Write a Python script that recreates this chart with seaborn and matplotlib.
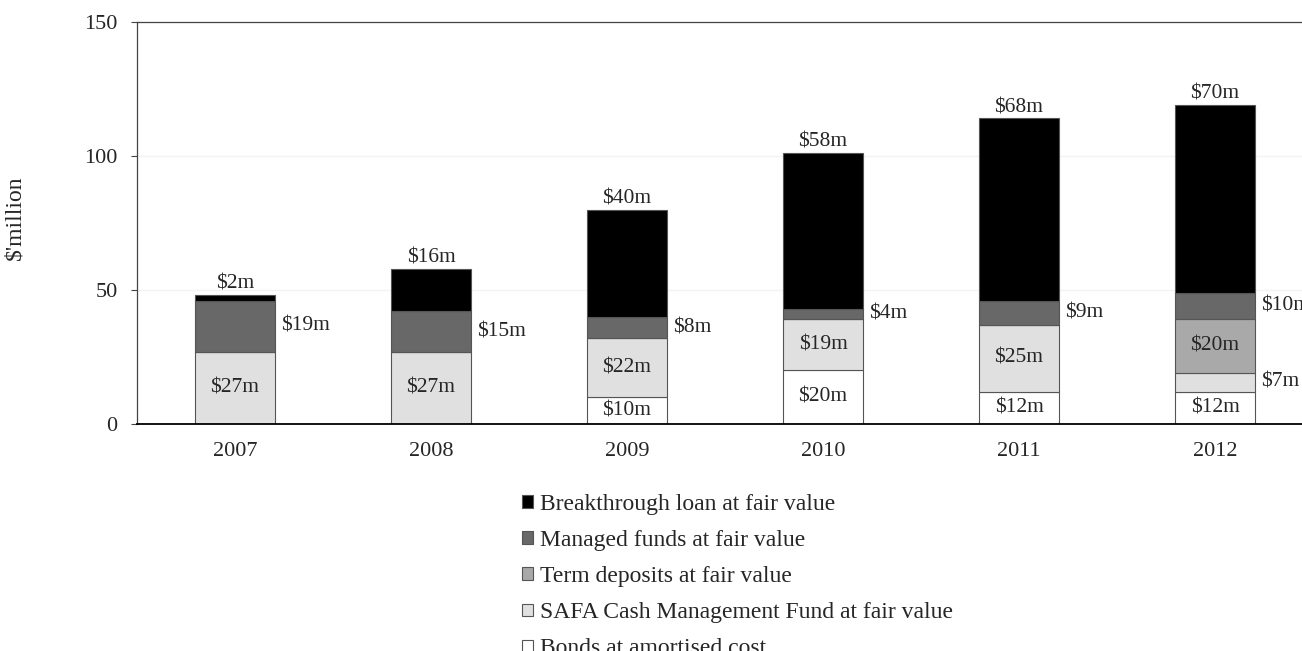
import pandas as pd
import seaborn as sns
import matplotlib.pyplot as plt
from matplotlib.patches import Patch

years = ['2007', '2008', '2009', '2010', '2011', '2012']
bonds = [0, 0, 10, 20, 12, 12]
safa = [27, 27, 22, 19, 25, 7]
term = [0, 0, 0, 0, 0, 20]
managed = [19, 15, 8, 4, 9, 10]
loan = [2, 16, 40, 58, 68, 70]

names = ['Bonds at amortised cost',
         'SAFA Cash Management Fund at fair value',
         'Term deposits at fair value',
         'Managed funds at fair value',
         'Breakthrough loan at fair value']
colors = ['#ffffff', '#e0e0e0', '#a9a9a9', '#686868', '#000000']
series = [bonds, safa, term, managed, loan]
# where each series puts its value label
where = ['inside', 'inside', 'inside', 'right', 'top']

sns.set_style('white')
plt.rcParams['font.family'] = ['Liberation Serif', 'DejaVu Serif']
plt.rcParams['font.size'] = 16

fig = plt.figure(figsize=(13.02, 6.51), dpi=100)
ax = fig.add_axes([137 / 1302, 1 - 424 / 651, 1176 / 1302, 402 / 651])

bottom = [0] * len(years)
for name, col, vals, pos in zip(names, colors, series, where):
    df = pd.DataFrame({'year': years, 'value': vals})
    sns.barplot(data=df, x='year', y='value', bottom=bottom, color=col,
                saturation=1, width=0.41, errorbar=None, edgecolor='#555555',
                linewidth=0.8, ax=ax)
    for i, v in enumerate(vals):
        if v == 0:
            continue
        lab = f'${v}m'
        p = pos
        if p == 'inside' and v < 10:
            p = 'right'
        if p == 'top':
            ax.annotate(lab, (i, bottom[i] + v), xytext=(0, 1), textcoords='offset points',
                        ha='center', va='bottom', fontsize=15.5)
        elif p == 'right':
            ax.annotate(lab, (i + 0.205, bottom[i] + v / 2), xytext=(4, 0),
                        textcoords='offset points', ha='left', va='center', fontsize=15.5)
        else:
            ax.text(i, bottom[i] + v / 2, lab, ha='center', va='center', fontsize=15.5)
    bottom = [b + v for b, v in zip(bottom, vals)]

ax.set_xlim(-0.5, 5.5)
ax.set_ylim(0, 150)
ax.set_yticks([0, 50, 100, 150])
ax.set_xlabel('')
ax.set_ylabel('')
ax.yaxis.grid(True, color='#f3f3f3', lw=1)
ax.set_axisbelow(True)
ax.set_xticks([0.5, 1.5, 2.5, 3.5, 4.5], minor=True)
ax.tick_params(axis='x', which='major', length=0, pad=13, labelsize=16)
ax.tick_params(axis='x', which='minor', direction='in', length=5, color='#666666')
ax.tick_params(axis='y', which='major', direction='out', length=4, pad=10, left=True,
               color='#444444', labelsize=16)
for s in ['top', 'left', 'right']:
    ax.spines[s].set_color('#444444')
    ax.spines[s].set_linewidth(0.9)
ax.spines['bottom'].set_color('black')
ax.spines['bottom'].set_linewidth(1.3)

fig.text(15 / 1302, 1 - 218 / 651, "$'million", rotation=90, ha='center', va='center',
         fontsize=17)

handles = [Patch(facecolor=c, edgecolor='#555555', linewidth=0.8) for c in colors][::-1]
fig.legend(handles, names[::-1], loc='upper left', bbox_to_anchor=(522 / 1302, 1 - 494 / 651),
           frameon=False, borderpad=0, borderaxespad=0, handlelength=0.45, handleheight=0.45,
           handletextpad=0.3, labelspacing=0.64, fontsize=17)

fig.savefig('out.png', dpi=100)
